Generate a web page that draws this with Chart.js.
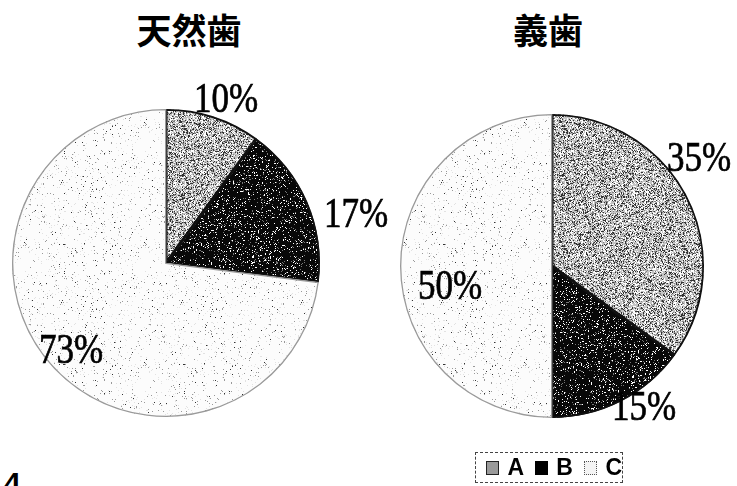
<!DOCTYPE html>
<html>
<head>
<meta charset="utf-8">
<script src="https://cdn.jsdelivr.net/npm/chart.js@4"></script>
<style>
  body { margin: 0; background: #fff; width: 737px; height: 486px; overflow: hidden; position: relative; }
  .box { position: absolute; }
  .title { position: absolute; font-family: "Noto Sans CJK JP", sans-serif; font-weight: bold; font-size: 35px; color: #000; transform: translateX(-50%); line-height: 1; }
  .legend { position: absolute; left: 475px; top: 452px; width: 146px; height: 29px; border: 1px dashed #444; display: flex; align-items: center; font-family: "Liberation Sans", sans-serif; font-weight: bold; font-size: 23px; }
  .sw { display: inline-block; width: 14px; height: 14px; margin: 0 8px 0 10px; box-sizing: border-box; }
  .pageno { position: absolute; left: 4px; top: 466px; font-family: "Liberation Sans", sans-serif; font-weight: bold; font-size: 30px; }
</style>
</head>
<body>
<div class="title" style="left:189px; top:11px;">天然歯</div>
<div class="title" style="left:548px; top:11px;">義歯</div>

<div class="box" style="left:0; top:70px;"><canvas id="pieNatural" width="400" height="380"></canvas></div>
<div class="box" style="left:380px; top:70px;"><canvas id="pieDenture" width="357" height="380"></canvas></div>

<div class="legend">
  <span class="sw" id="swA"></span>A
  <span class="sw" style="background:#000; margin-left:11px;"></span>B
  <span class="sw" style="border:1px dotted #555; background:#f4f4f4; margin-left:11px;"></span>C
</div>
<div class="pageno">4</div>

<script>
// categories and values
const categories = ['A', 'B', 'C'];
const naturalValues = [10, 17, 73];
const dentureValues = [35, 15, 50];

// label offsets from the pie centre (layout only)
const naturalLabelPos = [[60, -162], [190, -47], [-95, 89]];
const dentureLabelPos = [[147, -106], [92, 143], [-102, 22]];

// small deterministic generator for the screen textures
function lcg(seed) {
  let s = seed >>> 0;
  return () => {
    s = (s * 1664525 + 1013904223) >>> 0;
    return s / 4294967296;
  };
}

function noisePattern(seed, base, dots) {
  const c = document.createElement('canvas');
  c.width = 120; c.height = 120;
  const g = c.getContext('2d');
  g.fillStyle = base;
  g.fillRect(0, 0, c.width, c.height);
  const rnd = lcg(seed);
  for (let y = 0; y < c.height; y++) {
    for (let x = 0; x < c.width; x++) {
      const r = rnd();
      let acc = 0;
      for (const d of dots) {
        acc += d.p;
        if (r < acc) {
          g.fillStyle = d.color;
          g.fillRect(x, y, 1, 1);
          break;
        }
      }
    }
  }
  return g.createPattern(c, 'repeat');
}

const fillA = noisePattern(7, '#c4c4c4', [{ p: 0.2, color: '#333' }, { p: 0.12, color: '#808080' }, { p: 0.25, color: '#fff' }]);
const fillB = noisePattern(11, '#080808', [{ p: 0.07, color: '#fff' }, { p: 0.06, color: '#777' }]);
const fillC = noisePattern(19, '#fcfcfc', [{ p: 0.02, color: '#999' }, { p: 0.006, color: '#333' }, { p: 0.03, color: '#e2e2e2' }]);

document.getElementById('swA').style.background = '#9a9a9a';
document.getElementById('swA').style.border = '1px solid #222';

const pctLabels = {
  id: 'pctLabels',
  afterDraw(chart, args, opts) {
    const arc = chart.getDatasetMeta(0).data[0];
    const cx = arc.x, cy = arc.y;
    const ctx = chart.ctx;
    const vals = chart.data.datasets[0].data;
    ctx.save();
    ctx.fillStyle = '#000';
    ctx.strokeStyle = '#000';
    ctx.lineWidth = 0.6;
    ctx.font = '35px "Liberation Serif", serif';
    ctx.textAlign = 'center';
    ctx.textBaseline = 'middle';
    vals.forEach((v, i) => {
      const [dx, dy] = opts.pos[i];
      ctx.save();
      ctx.translate(cx + dx, cy + dy);
      ctx.scale(1, 1.2);
      ctx.fillText(v + '%', 0, 0);
      ctx.strokeText(v + '%', 0, 0);
      ctx.restore();
    });
    ctx.restore();
  }
};

function makePie(id, values, radius, padding, labelPos) {
  return new Chart(document.getElementById(id), {
    type: 'pie',
    data: {
      labels: categories,
      datasets: [{
        data: values,
        backgroundColor: [fillA, fillB, fillC],
        borderColor: ['#111', '#111', '#9a9a9a'],
        borderWidth: [1.5, 1.5, 1],
        borderAlign: 'inner'
      }]
    },
    options: {
      responsive: false,
      animation: false,
      radius: radius,
      layout: { padding: padding },
      plugins: {
        legend: { display: false },
        tooltip: { enabled: false },
        pctLabels: { pos: labelPos }
      }
    },
    plugins: [pctLabels]
  });
}

makePie('pieNatural', naturalValues, 154, { left: 0, top: 27, right: 68, bottom: 21 }, naturalLabelPos);
makePie('pieDenture', dentureValues, 152, { left: 0, top: 24, right: 13, bottom: 12 }, dentureLabelPos);
</script>
</body>
</html>
